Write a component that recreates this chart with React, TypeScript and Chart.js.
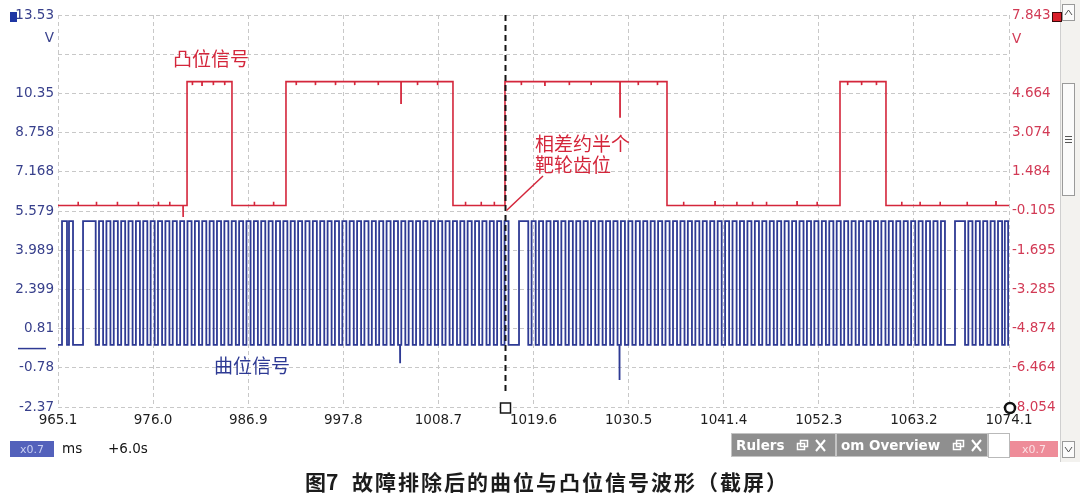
import React, { useEffect, useRef } from 'react';
import { Chart, registerables } from 'chart.js';

Chart.register(...registerables);

// ---------------- data ----------------
const X_MIN = 965.1;
const X_MAX = 1074.1;
const xTicks = [965.1, 976.0, 986.9, 997.8, 1008.7, 1019.6, 1030.5, 1041.4, 1052.3, 1063.2, 1074.1];
const xTickLabels = ['965.1', '976.0', '986.9', '997.8', '1008.7', '1019.6', '1030.5', '1041.4', '1052.3', '1063.2', '1074.1'];

const leftTicks = [-2.37, -0.78, 0.81, 2.399, 3.989, 5.579, 7.168, 8.758, 10.35, 11.94, 13.53];
const leftTickLabels = ['-2.37', '-0.78', '0.81', '2.399', '3.989', '5.579', '7.168', '8.758', '10.35', '', '13.53'];
const rightTicks = [-8.054, -6.464, -4.874, -3.285, -1.695, -0.105, 1.484, 3.074, 4.664, 6.254, 7.843];
const rightTickLabels = ['-8.054', '-6.464', '-4.874', '-3.285', '-1.695', '-0.105', '1.484', '3.074', '4.664', '', '7.843'];

// crank (曲位) signal: transition times (ms), starting low
const crankLow = 0.15;
const crankHigh = 5.17;
const crankEdges = [
  965.56, 966.13, 966.36, 966.82, 967.97, 969.42,
  969.80, 970.27, 970.65, 971.11, 971.49, 971.96, 972.34, 972.80, 973.18, 973.65,
  974.03, 974.49, 974.87, 975.34, 975.72, 976.18, 976.56, 977.03, 977.41, 977.87,
  978.25, 978.72, 979.10, 979.56, 979.94, 980.41, 980.79, 981.25, 981.63, 982.10,
  982.48, 982.94, 983.32, 983.79, 984.17, 984.63, 985.01, 985.48, 985.86, 986.32,
  986.70, 987.17, 987.55, 988.01, 988.39, 988.86, 989.24, 989.70, 990.08, 990.55,
  990.93, 991.39, 991.77, 992.24, 992.62, 993.08, 993.46, 993.93, 994.31, 994.77,
  995.15, 995.62, 996.00, 996.46, 996.84, 997.31, 997.69, 998.15, 998.53, 999.00,
  999.38, 999.84, 1000.22, 1000.69, 1001.07, 1001.53, 1001.91, 1002.38, 1002.76, 1003.22,
  1003.60, 1004.07, 1004.45, 1004.91, 1005.29, 1005.76, 1006.14, 1006.60, 1006.98, 1007.45,
  1007.83, 1008.29, 1008.67, 1009.14, 1009.52, 1009.98, 1010.36, 1010.83, 1011.21, 1011.67,
  1012.05, 1012.52, 1012.90, 1013.36, 1013.74, 1014.21, 1014.59, 1015.05, 1015.43, 1015.90,
  1016.28, 1016.74,
  1017.94, 1019.00,
  1019.38, 1019.85, 1020.23, 1020.70, 1021.09, 1021.55, 1021.94, 1022.40, 1022.79, 1023.26,
  1023.65, 1024.11, 1024.50, 1024.96, 1025.35, 1025.82, 1026.20, 1026.67, 1027.06, 1027.52,
  1027.91, 1028.38, 1028.76, 1029.23, 1029.62, 1030.08, 1030.47, 1030.93, 1031.32, 1031.79,
  1032.18, 1032.64, 1033.03, 1033.49, 1033.88, 1034.35, 1034.73, 1035.20, 1035.59, 1036.05,
  1036.44, 1036.91, 1037.29, 1037.76, 1038.15, 1038.61, 1039.00, 1039.46, 1039.85, 1040.32,
  1040.71, 1041.17, 1041.56, 1042.02, 1042.41, 1042.88, 1043.26, 1043.73, 1044.12, 1044.58,
  1044.97, 1045.44, 1045.82, 1046.29, 1046.68, 1047.14, 1047.53, 1047.99, 1048.38, 1048.85,
  1049.24, 1049.70, 1050.09, 1050.55, 1050.94, 1051.41, 1051.79, 1052.26, 1052.65, 1053.11,
  1053.50, 1053.97, 1054.35, 1054.82, 1055.21, 1055.67, 1056.06, 1056.52, 1056.91, 1057.38,
  1057.77, 1058.23, 1058.62, 1059.08, 1059.47, 1059.94, 1060.32, 1060.79, 1061.18, 1061.64,
  1062.03, 1062.50, 1062.88, 1063.35, 1063.74, 1064.20, 1064.59, 1065.05, 1065.44, 1065.91,
  1066.30, 1066.76,
  1067.91, 1069.06,
  1069.44, 1069.91, 1070.29, 1070.76, 1071.14, 1071.61, 1071.99, 1072.46, 1072.84, 1073.31,
  1073.62, 1074.00,
];
const crankSpikes: number[][] = [[1004.3, -0.6], [1029.45, -1.27]];

// cam (凸位) signal: transition times (ms), starting low
const camLow = 0.12;
const camHigh = 5.14;
const camEdges = [979.89, 985.04, 991.23, 1010.37, 1016.33, 1034.9, 1054.73, 1060.0];
const camSpikes: number[][] = [[979.43, -0.35], [1004.41, 4.27], [1029.51, 3.71]];
const camHighDips = [980.5, 981.6, 982.9, 984.2, 992.4, 994.6, 996.9, 999.1, 1001.8, 1006.3, 1008.6, 1018.2, 1020.9, 1023.7, 1026.2, 1031.6, 1033.8, 1055.6, 1057.2, 1058.9];
const camDipLevel = 5.0;
const camLowBumps = [967.4, 969.5, 971.9, 974.3, 976.6, 977.9, 987.6, 989.8, 1011.8, 1013.6, 1015.1, 1036.8, 1040.4, 1042.9, 1044.7, 1046.3, 1049.8, 1052.1, 1061.8, 1063.9, 1066.2, 1069.3, 1072.6];
const camBumpLevel = 0.27;

const cursorTime = 1016.39;

// ---------------- helpers ----------------
function buildTrace(edges: number[], spikes: number[][], lo: number, hi: number) {
  const ev: { t: number; s: number | null }[] = [
    ...edges.map((t) => ({ t, s: null as number | null })),
    ...spikes.map(([t, v]) => ({ t, s: v as number | null })),
  ].sort((a, b) => a.t - b.t);
  let level = lo;
  const pts: { x: number; y: number }[] = [{ x: X_MIN, y: level }];
  for (const e of ev) {
    if (e.s === null) {
      pts.push({ x: e.t, y: level });
      level = level === lo ? hi : lo;
      pts.push({ x: e.t, y: level });
    } else {
      pts.push({ x: e.t, y: level }, { x: e.t, y: e.s }, { x: e.t + 0.02, y: e.s }, { x: e.t + 0.02, y: level });
    }
  }
  pts.push({ x: X_MAX, y: level });
  return pts;
}

const NAVY = '#2e3a94';
const RED = '#d4263b';
const LBL_NAVY = '#38408c';
const LBL_RED = '#d23a55';
const TICK_FONT = { family: 'DejaVu Sans', size: 13.5 };

const decor = {
  id: 'decor',
  beforeDraw(chart: any) {
    const ctx: CanvasRenderingContext2D = chart.ctx;
    ctx.save();
    ctx.fillStyle = '#ffffff';
    ctx.fillRect(0, 0, chart.width, chart.height);
    // right scroll strip
    ctx.fillStyle = '#f3f2ef';
    ctx.fillRect(1060, 0, 20, 462);
    ctx.strokeStyle = '#cfcfcf';
    ctx.lineWidth = 1;
    ctx.beginPath();
    ctx.moveTo(1060.5, 0);
    ctx.lineTo(1060.5, 462);
    ctx.stroke();
    ctx.fillStyle = '#fbfbfb';
    ctx.strokeStyle = '#9a9a9a';
    ctx.fillRect(1062.5, 4.5, 12, 16);
    ctx.strokeRect(1062.5, 4.5, 12, 16);
    ctx.fillRect(1062.5, 83.5, 12, 112);
    ctx.strokeRect(1062.5, 83.5, 12, 112);
    ctx.fillRect(1062.5, 441.5, 12, 16);
    ctx.strokeRect(1062.5, 441.5, 12, 16);
    ctx.strokeStyle = '#555';
    ctx.beginPath();
    ctx.moveTo(1065, 15); ctx.lineTo(1068.5, 10); ctx.lineTo(1072, 15);
    ctx.moveTo(1065, 447); ctx.lineTo(1068.5, 452); ctx.lineTo(1072, 447);
    for (const dy of [-3, 0, 3]) {
      ctx.moveTo(1065, 139.5 + dy); ctx.lineTo(1072, 139.5 + dy);
    }
    ctx.stroke();
    // channel squares
    ctx.fillStyle = '#1f36a3';
    ctx.fillRect(10, 12, 7, 10);
    ctx.restore();
  },
  afterDraw(chart: any) {
    const ctx: CanvasRenderingContext2D = chart.ctx;
    const xs = chart.scales.x;
    const yL = chart.scales.yL;
    const yR = chart.scales.yR;
    ctx.save();
    // unit labels
    ctx.font = '13.5px "DejaVu Sans"';
    ctx.textBaseline = 'middle';
    ctx.fillStyle = LBL_NAVY;
    ctx.textAlign = 'right';
    ctx.fillText('V', 54, 38);
    ctx.fillStyle = LBL_RED;
    ctx.textAlign = 'left';
    ctx.fillText('V', 1012, 39);
    // red channel square
    ctx.fillStyle = '#d81f2a';
    ctx.fillRect(1052, 12, 10, 10);
    ctx.strokeStyle = '#3a0a0a';
    ctx.lineWidth = 1;
    ctx.strokeRect(1052.5, 12.5, 9, 9);
    // blue channel zero marker
    const y0 = yL.getPixelForValue(0);
    ctx.strokeStyle = NAVY;
    ctx.lineWidth = 1.5;
    ctx.beginPath();
    ctx.moveTo(18, y0); ctx.lineTo(46, y0);
    ctx.stroke();
    // cursor dashed line
    const cx = Math.round(xs.getPixelForValue(cursorTime)) + 0.5;
    ctx.strokeStyle = '#151515';
    ctx.lineWidth = 2;
    ctx.setLineDash([6, 4]);
    ctx.beginPath();
    ctx.moveTo(cx, yL.top);
    ctx.lineTo(cx, yL.bottom - 12);
    ctx.stroke();
    ctx.setLineDash([]);
    // cursor square
    ctx.fillStyle = '#fff';
    ctx.fillRect(cx - 5, yL.bottom - 4, 10, 10);
    ctx.lineWidth = 1.5;
    ctx.strokeRect(cx - 5, yL.bottom - 4, 10, 10);
    // end circle
    ctx.beginPath();
    ctx.arc(xs.right + 1, yL.bottom + 1, 5, 0, Math.PI * 2);
    ctx.fillStyle = '#fff';
    ctx.fill();
    ctx.lineWidth = 2.5;
    ctx.strokeStyle = '#111';
    ctx.stroke();
    // annotations
    ctx.font = '19px "Noto Sans CJK SC"';
    ctx.textAlign = 'left';
    ctx.fillStyle = RED;
    ctx.fillText('凸位信号', 173, 59);
    ctx.fillText('相差约半个', 535, 144);
    ctx.fillText('靶轮齿位', 535, 165);
    ctx.fillStyle = NAVY;
    ctx.fillText('曲位信号', 214, 366);
    const yLowCam = yR.getPixelForValue(camLow);
    ctx.strokeStyle = RED;
    ctx.lineWidth = 1.5;
    ctx.beginPath();
    ctx.moveTo(cx + 1, yLowCam + 5);
    ctx.lineTo(543, 176);
    ctx.stroke();
    // bottom status bar
    ctx.fillStyle = '#5361bb';
    ctx.fillRect(10, 441, 44, 16);
    ctx.fillStyle = '#c9cff2';
    ctx.font = '11px "DejaVu Sans"';
    ctx.textAlign = 'center';
    ctx.fillText('x0.7', 32, 450);
    ctx.fillStyle = '#151515';
    ctx.font = '13.5px "DejaVu Sans"';
    ctx.textAlign = 'left';
    ctx.fillText('ms', 62, 449);
    ctx.fillText('+6.0s', 108, 449);
    // panels
    ctx.fillStyle = '#8f8f8f';
    ctx.fillRect(731, 433, 105, 24);
    ctx.fillRect(837, 433, 151, 24);
    ctx.strokeStyle = '#c4c4c4';
    ctx.lineWidth = 1;
    ctx.strokeRect(731.5, 433.5, 104, 23);
    ctx.strokeRect(836.5, 433.5, 151, 23);
    ctx.fillStyle = '#ffffff';
    ctx.font = 'bold 13.5px "DejaVu Sans"';
    ctx.fillText('Rulers', 736, 446);
    ctx.fillText('om Overview', 841, 446);
    ctx.strokeStyle = '#ffffff';
    ctx.lineWidth = 1.5;
    for (const bx of [797, 953]) {
      ctx.strokeRect(bx + 0.5, 443.5, 7, 6);
      ctx.strokeRect(bx + 3.5, 440.5, 7, 6);
    }
    ctx.lineWidth = 2;
    for (const bx of [816, 972]) {
      ctx.beginPath();
      ctx.moveTo(bx, 440); ctx.lineTo(bx + 9, 451);
      ctx.moveTo(bx + 9, 440); ctx.lineTo(bx, 451);
      ctx.stroke();
    }
    ctx.strokeStyle = '#b9b9b9';
    ctx.lineWidth = 1;
    ctx.strokeRect(988.5, 433.5, 21, 24);
    ctx.fillStyle = '#ee8c99';
    ctx.fillRect(1010, 441, 48, 16);
    ctx.fillStyle = '#fbe1e5';
    ctx.font = '11px "DejaVu Sans"';
    ctx.textAlign = 'center';
    ctx.fillText('x0.7', 1034, 450);
    // caption
    ctx.fillStyle = '#1c1c1c';
    ctx.textAlign = 'left';
    ctx.font = 'bold 21px "Noto Sans CJK SC"';
    ctx.fillText('图7', 305, 482);
    (ctx as any).letterSpacing = '2px';
    ctx.fillText('故障排除后的曲位与凸位信号波形（截屏）', 352, 482);
    (ctx as any).letterSpacing = '0px';
    ctx.restore();
  },
};

export default function App() {
  const ref = useRef<HTMLCanvasElement>(null);
  useEffect(() => {
    document.body.style.margin = '0';
    const canvas = ref.current!;
    const gridCommon = { color: '#c8c8c8', lineWidth: 1, drawTicks: false };
    const chart = new Chart(canvas, {
      type: 'line',
      data: {
        datasets: [
          {
            label: '凸位信号',
            data: buildTrace(
              camEdges,
              [...camSpikes, ...camHighDips.map((t) => [t, camDipLevel]), ...camLowBumps.map((t) => [t, camBumpLevel])],
              camLow,
              camHigh
            ),
            yAxisID: 'yR',
            borderColor: RED,
            borderWidth: 1.6,
            pointRadius: 0,
            tension: 0,
            fill: false,
          },
          {
            label: '曲位信号',
            data: buildTrace(crankEdges, crankSpikes, crankLow, crankHigh),
            yAxisID: 'yL',
            borderColor: NAVY,
            borderWidth: 1.8,
            pointRadius: 0,
            tension: 0,
            fill: false,
          },
        ],
      },
      options: {
        animation: false,
        responsive: false,
        layout: { padding: { top: 15, left: 0, right: 0, bottom: 0 } },
        plugins: { legend: { display: false }, tooltip: { enabled: false } },
        scales: {
          x: {
            type: 'linear',
            min: X_MIN,
            max: X_MAX,
            afterBuildTicks: (s: any) => {
              s.ticks = xTicks.map((v) => ({ value: v }));
            },
            afterFit: (s: any) => {
              s.height = 91;
            },
            ticks: {
              autoSkip: false,
              maxRotation: 0,
              padding: 5,
              color: '#1e1e1e',
              font: TICK_FONT,
              callback: (_v: any, i: number) => xTickLabels[i],
            },
            grid: gridCommon,
            border: { display: false, dash: [4, 3] },
          },
          yL: {
            type: 'linear',
            position: 'left',
            min: leftTicks[0],
            max: leftTicks[leftTicks.length - 1],
            afterBuildTicks: (s: any) => {
              s.ticks = leftTicks.map((v) => ({ value: v }));
            },
            afterFit: (s: any) => {
              s.width = 58;
            },
            ticks: {
              autoSkip: false,
              padding: 4,
              color: LBL_NAVY,
              font: TICK_FONT,
              callback: (_v: any, i: number) => leftTickLabels[i],
            },
            grid: gridCommon,
            border: { display: false, dash: [4, 3] },
          },
          yR: {
            type: 'linear',
            position: 'right',
            min: rightTicks[0],
            max: rightTicks[rightTicks.length - 1],
            afterBuildTicks: (s: any) => {
              s.ticks = rightTicks.map((v) => ({ value: v }));
            },
            afterFit: (s: any) => {
              s.width = 71;
            },
            ticks: {
              autoSkip: false,
              padding: 3,
              color: LBL_RED,
              font: TICK_FONT,
              callback: (_v: any, i: number) => rightTickLabels[i],
            },
            grid: { display: false, drawTicks: false },
            border: { display: false },
          },
        },
      } as any,
      plugins: [decor],
    });
    return () => chart.destroy();
  }, []);
  return (
    <div style={{ position: 'absolute', left: 0, top: 0, width: 1080, height: 498, background: '#fff' }}>
      <canvas ref={ref} width={1080} height={498} style={{ width: 1080, height: 498, display: 'block' }} />
    </div>
  );
}
